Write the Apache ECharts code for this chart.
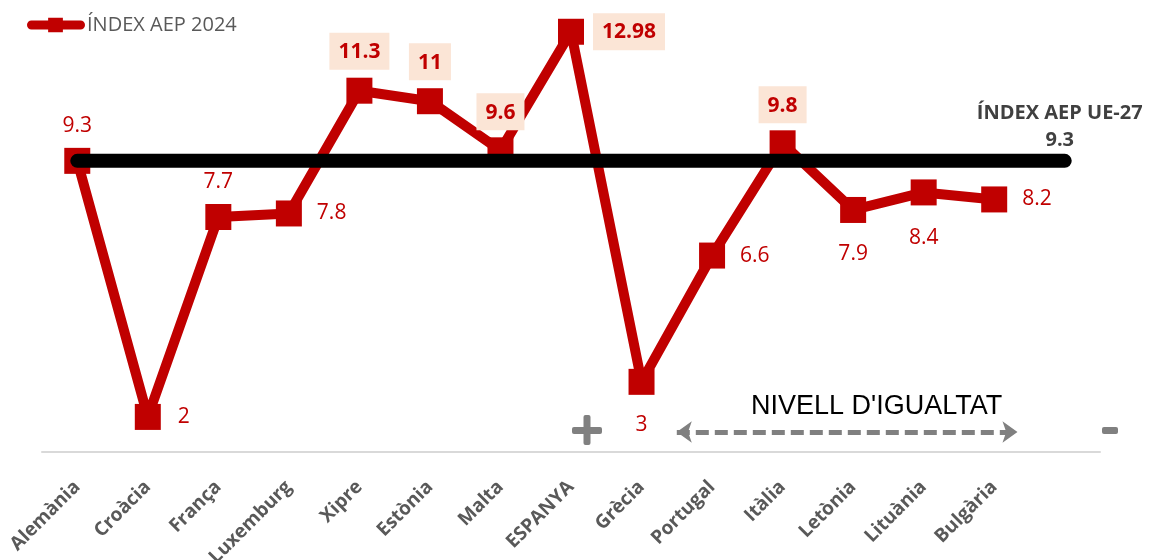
<!DOCTYPE html>
<html><head><meta charset="utf-8">
<script src="https://cdn.jsdelivr.net/npm/echarts@6/dist/echarts.min.js"></script>
<style>html,body{margin:0;padding:0;background:#fff}#c{width:1160px;height:560px}</style>
</head><body><div id="c"></div>
<script>
const categories = ['Alemània','Croàcia','França','Luxemburg','Xipre','Estònia','Malta','ESPANYA','Grècia','Portugal','Itàlia','Letònia','Lituània','Bulgària',''];
const aep2024 = [9.3, 2, 7.7, 7.8, 11.3, 11, 9.6, 12.98, 3, 6.6, 9.8, 7.9, 8.4, 8.2];
const ue27 = [9.3, 9.3, 9.3, 9.3, 9.3, 9.3, 9.3, 9.3, 9.3, 9.3, 9.3, 9.3, 9.3, 9.3, 9.3];
const seriesNames = ['ÍNDEX AEP 2024', 'ÍNDEX AEP UE-27'];
const equalityText = "NIVELL D'IGUALTAT";
// annotation arrow extent in data space (category index, value)
const arrowFrom = [8.5, 1.57];
const arrowTo = [13.33, 1.57];

// styling (label placement per point)
const labelStyle = [
  {p:'top', d:11}, {p:'right', d:17}, {p:'top', d:11}, {p:'right', d:15},
  {p:'top', d:8, hl:true}, {p:'top', d:8, hl:true}, {p:'top', d:7, hl:true},
  {p:'right', d:9, hl:true}, {p:'bottom', d:20}, {p:'right', d:15},
  {p:'top', d:7, hl:true}, {p:'bottom', d:21}, {p:'bottom', d:22}, {p:'right', d:15}
];
const RED = '#C00000';
const aepData = aep2024.map((v, i) => {
  const s = labelStyle[i];
  const lab = { show: true, position: s.p, distance: s.d, color: RED, fontFamily: 'Open Sans', fontSize: 21 };
  if (s.hl) Object.assign(lab, { fontWeight: 'bold', backgroundColor: '#FBE5D6', padding: [9, 9, 7, 9] });
  return { value: v, label: lab };
});
const ueData = ue27.map((v, i) => i === ue27.length - 1 ? {
  value: v,
  label: { show: true, position: 'top', distance: 8, offset: [-5, 0],
    formatter: () => '{a|' + seriesNames[1] + '}\n{b|' + v + '}',
    rich: { a: { fontFamily: 'Open Sans', fontWeight: 'bold', fontSize: 20, color: '#404040', align: 'center', lineHeight: 28 },
            b: { fontFamily: 'Open Sans', fontWeight: 'bold', fontSize: 20, color: '#404040', align: 'center', lineHeight: 26 } } }
} : v);

const chart = echarts.init(document.getElementById('c'));
chart.setOption({
  animation: false,
  grid: { left: 42, right: 60, top: 3, bottom: 108, containLabel: false, outerBoundsMode: 'none' },
  legend: {
    data: [seriesNames[0]], left: 22, top: 10, itemWidth: 58, itemHeight: 15, itemGap: 3,
    textStyle: { fontFamily: 'Open Sans', fontSize: 20, color: '#595959', padding: [0,0,0,-3] },
    icon: 'path://M4,3 L21,3 L21,0 L36,0 L36,3 L54,3 A4.5,4.5 0 0 1 54,12 L36,12 L36,15 L21,15 L21,12 L4,12 A4.5,4.5 0 0 1 4,3 Z'
  },
  xAxis: [{
    type: 'category', data: categories, boundaryGap: true,
    axisLine: { lineStyle: { color: '#D9D9D9', width: 2 } },
    axisTick: { show: false },
    axisLabel: { rotate: 45, interval: 0, margin: 32, color: '#595959', fontFamily: 'Open Sans', fontWeight: 'bold', fontSize: 19 }
  }, {
    type: 'value', min: -0.5, max: 14.5, show: false, splitLine: { show: false }
  }],
  yAxis: { type: 'value', min: 1, max: 13.8, show: false, splitLine: { show: false } },
  series: [
    {
      name: seriesNames[0], type: 'line', data: aepData, z: 2,
      symbol: 'rect', symbolSize: 26,
      lineStyle: { color: RED, width: 10 }, itemStyle: { color: RED }
    },
    {
      name: seriesNames[1], type: 'line', data: ueData, z: 5,
      symbol: 'circle', symbolSize: 0, showSymbol: true,
      itemStyle: { color: '#000' },
      lineStyle: { color: '#000', width: 14, cap: 'round' }
    },
    {
      name: 'arrow', type: 'line', xAxisIndex: 1, data: [arrowFrom, arrowTo], z: 1,
      symbol: 'none', lineStyle: { width: 0, opacity: 0 }, silent: true,
      markLine: {
        silent: true, symbol: ['arrow', 'arrow'], symbolSize: [16, 15],
        lineStyle: { color: '#808080', width: 5, type: [13, 6] },
        label: { show: false },
        data: [[{ coord: arrowFrom }, { coord: arrowTo }]]
      }
    }
  ],
  graphic: [
    { type: 'text', left: 751, top: 393, style: { text: equalityText, fontFamily: 'Liberation Sans', fontSize: 27, fill: '#000' } },
    { type: 'rect', shape: { x: 572, y: 427, width: 30, height: 7, r: 2 }, style: { fill: '#808080' } },
    { type: 'rect', shape: { x: 583.5, y: 415, width: 7, height: 30, r: 2 }, style: { fill: '#808080' } },
    { type: 'rect', shape: { x: 1102, y: 427, width: 16, height: 7, r: 2 }, style: { fill: '#808080' } }
  ]
});
</script></body></html>
